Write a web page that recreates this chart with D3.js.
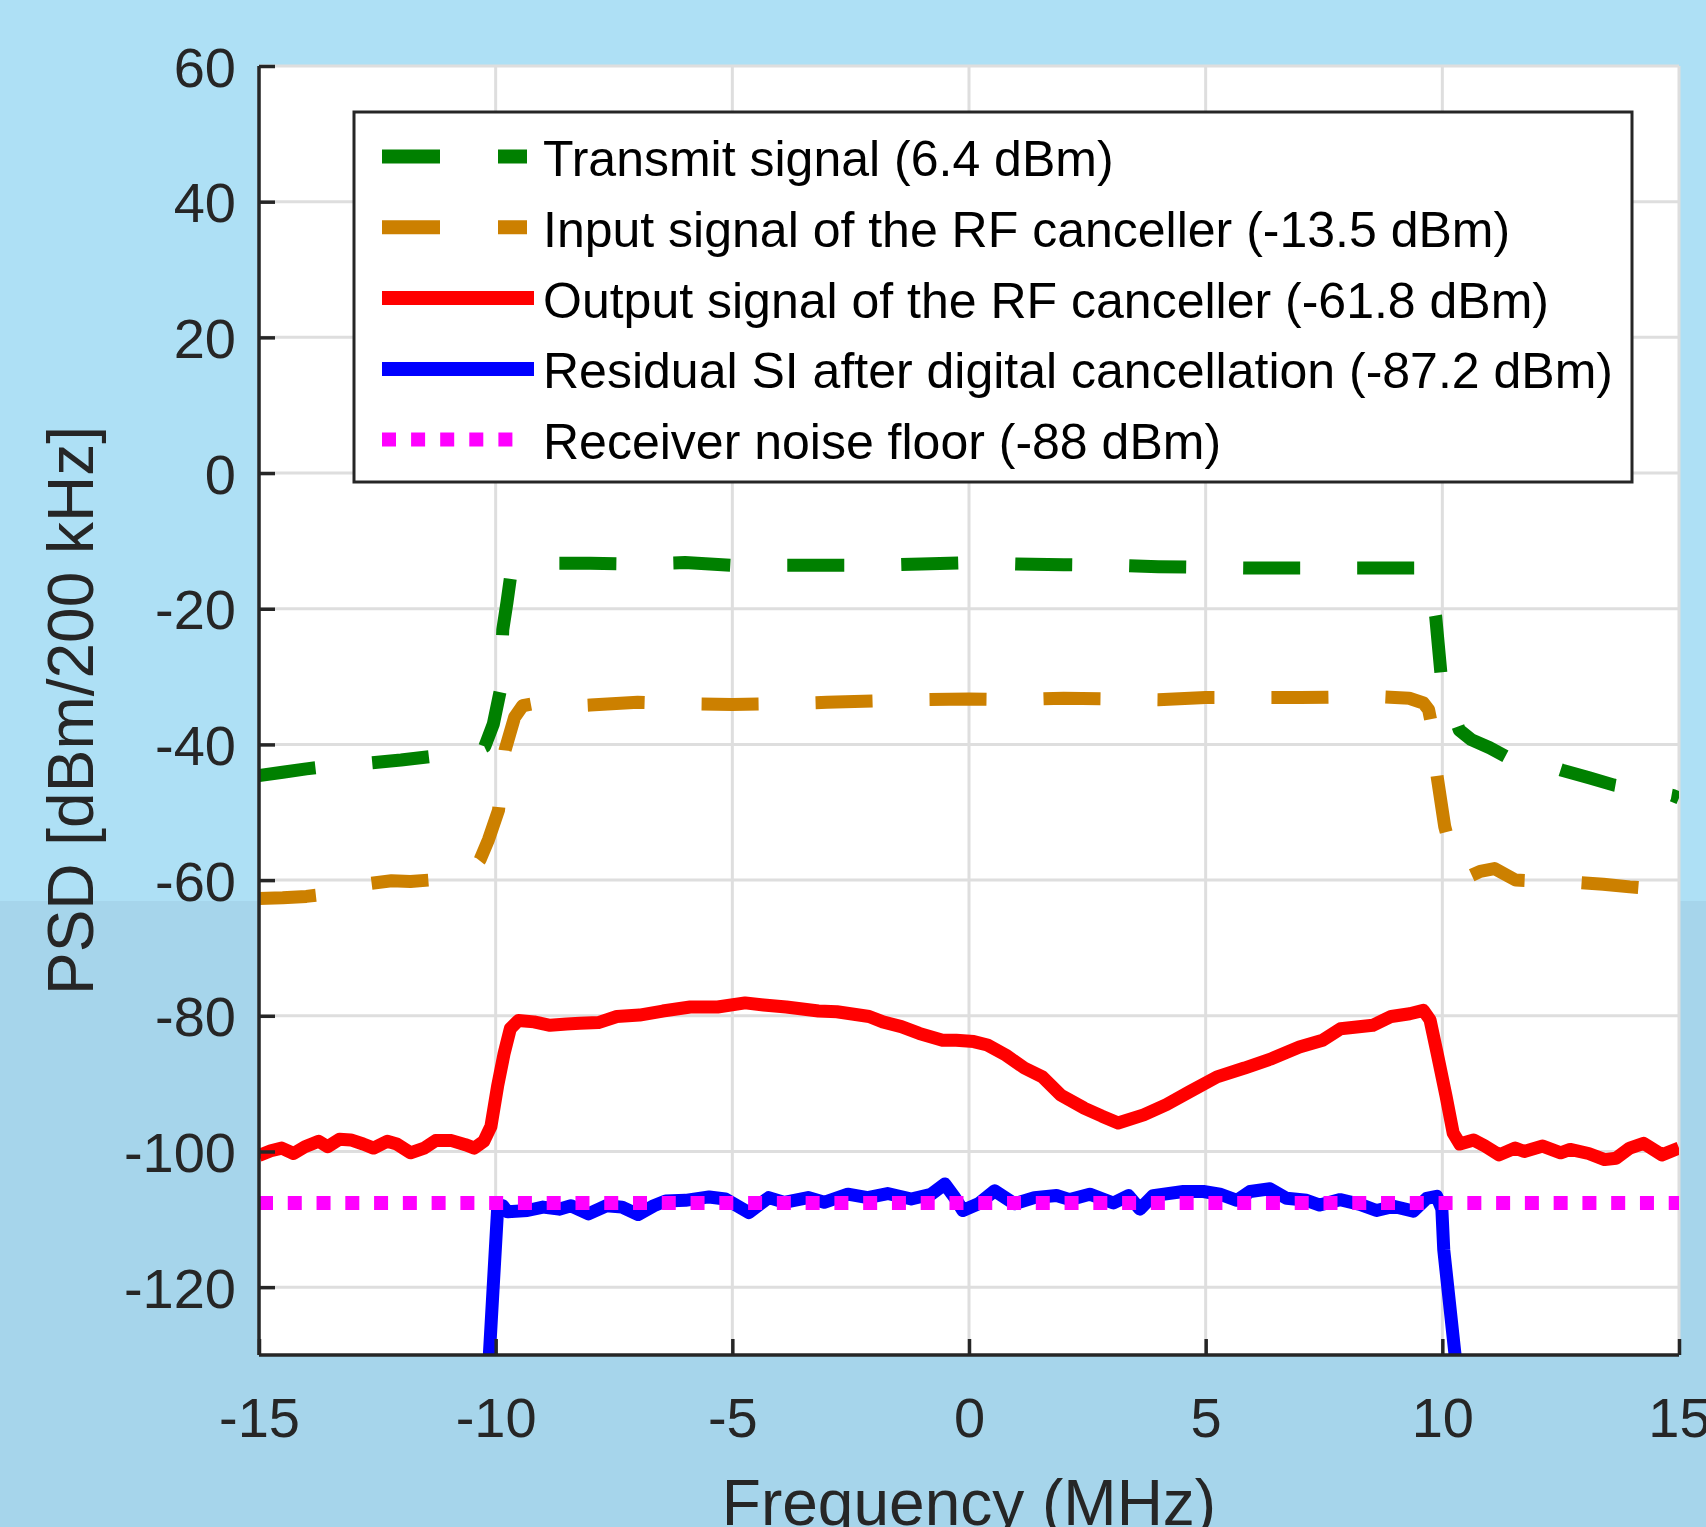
<!DOCTYPE html>
<html>
<head>
<meta charset="utf-8">
<script src="https://cdn.jsdelivr.net/npm/d3@7"></script>
<style>
  html, body { margin: 0; padding: 0; background: #AEE0F5; }
  svg { display: block; }
  text { font-family: "Liberation Sans", Arial, Helvetica, sans-serif; }
</style>
</head>
<body>
<svg id="chart" width="1706" height="1527"></svg>
<script>
// ---------------- data ----------------
const xTicks = [-15, -10, -5, 0, 5, 10, 15];
const yTicks = [-120, -100, -80, -60, -40, -20, 0, 20, 40, 60];

const transmitFreq = [-15, -14.5, -14, -13.75, -13.3, -12.62, -12.0, -11.39, -10.9, -10.5, -10.23, -10.05, -9.9, -9.85, -9.76, -9.68, -9.5, -9.2, -8.6, -8.0, -7.0, -6.0, -5.0, -4.0, -3.0, -2.0, -1.0, 0, 1, 2, 3, 4, 5, 6, 7, 8, 9, 9.5, 9.72, 9.86, 9.97, 10.1, 10.36, 10.61, 11.0, 11.35, 12.0, 12.53, 13.1, 13.63, 14.2, 14.86, 15];
const transmitPSD  = [-44.6, -44.1, -43.6, -43.4, -43.0, -42.7, -42.3, -41.8, -41.5, -41.2, -40.3, -37.0, -32.0, -23.1, -19.0, -15.0, -13.6, -13.3, -13.3, -13.3, -13.4, -13.2, -13.6, -13.6, -13.6, -13.6, -13.4, -13.2, -13.4, -13.5, -13.6, -13.8, -13.9, -14.0, -14.0, -14.0, -14.0, -14.0, -15.5, -21.2, -29.5, -33.0, -37.9, -39.3, -40.5, -41.8, -42.6, -43.8, -44.9, -46.0, -46.7, -47.5, -47.9];

const inputFreq = [-15, -14.5, -14, -13.75, -13.3, -12.65, -12.2, -11.8, -11.42, -10.9, -10.5, -10.33, -10.15, -9.94, -9.8, -9.6, -9.43, -9.2, -8.6, -8.0, -7.0, -6.0, -5.0, -4.0, -3.0, -2.0, -1.0, 0, 1, 2, 3, 4, 5, 6, 7, 8, 8.73, 9.3, 9.6, 9.71, 9.8, 9.87, 10.05, 10.2, 10.49, 10.8, 11.1, 11.55, 12.2, 12.77, 13.4, 13.96, 14.5, 15];
const inputPSD  = [-62.7, -62.6, -62.4, -62.2, -61.5, -60.5, -60.1, -60.2, -60.0, -59.5, -58.5, -57.0, -54.0, -49.7, -40.8, -36.0, -34.3, -34.0, -34.4, -34.2, -33.8, -34.0, -34.1, -34.0, -33.8, -33.6, -33.4, -33.3, -33.4, -33.2, -33.3, -33.4, -33.1, -33.1, -33.1, -33.0, -33.0, -33.2, -33.9, -34.9, -38.0, -43.8, -52.1, -56.0, -59.7, -58.7, -58.3, -60.0, -60.2, -60.3, -60.6, -61.0, -61.3, -61.5];

const outputFreq = [-15, -14.75, -14.52, -14.27, -14.03, -13.74, -13.55, -13.3, -13.06, -12.8, -12.58, -12.29, -12.09, -11.8, -11.51, -11.27, -10.93, -10.64, -10.45, -10.25, -10.1, -9.96, -9.82, -9.69, -9.52, -9.19, -8.85, -8.5, -8.22, -7.83, -7.44, -6.96, -6.47, -5.89, -5.31, -4.73, -4.34, -3.86, -3.18, -2.79, -2.11, -1.82, -1.43, -1.05, -0.56, -0.27, 0.1, 0.39, 0.78, 1.17, 1.55, 1.94, 2.43, 2.81, 3.15, 3.69, 4.17, 4.66, 5.24, 5.82, 6.4, 6.98, 7.47, 7.85, 8.53, 8.92, 9.31, 9.6, 9.74, 9.89, 10.08, 10.23, 10.37, 10.66, 10.9, 11.2, 11.54, 11.73, 12.12, 12.5, 12.7, 13.09, 13.43, 13.67, 13.96, 14.25, 14.64, 15];
const outputPSD  = [-100.6, -99.9, -99.5, -100.3, -99.3, -98.5, -99.3, -98.2, -98.3, -98.9, -99.5, -98.5, -98.9, -100.2, -99.5, -98.4, -98.4, -99.0, -99.5, -98.5, -96.3, -90.4, -85.5, -81.9, -80.7, -80.9, -81.4, -81.2, -81.1, -81.0, -80.1, -79.9, -79.3, -78.7, -78.7, -78.1, -78.4, -78.7, -79.3, -79.4, -80.1, -80.9, -81.6, -82.6, -83.6, -83.6, -83.8, -84.3, -85.8, -87.7, -89.0, -91.7, -93.6, -94.8, -95.8, -94.6, -93.1, -91.2, -89.0, -87.7, -86.3, -84.6, -83.6, -81.9, -81.4, -80.1, -79.7, -79.2, -80.6, -85.5, -91.9, -97.3, -98.9, -98.3, -99.2, -100.5, -99.5, -100.0, -99.2, -100.2, -99.7, -100.3, -101.2, -101.0, -99.5, -98.8, -100.5, -99.5];

const residualFreq = [-10.15, -9.96, -9.85, -9.75, -9.33, -9.0, -8.66, -8.41, -8.04, -7.66, -7.33, -6.99, -6.66, -6.41, -5.99, -5.49, -5.15, -4.65, -4.23, -3.9, -3.4, -3.06, -2.56, -2.14, -1.72, -1.22, -0.8, -0.51, -0.3, -0.13, 0.2, 0.54, 0.96, 1.38, 1.85, 2.13, 2.55, 3.05, 3.37, 3.61, 3.89, 4.53, 4.95, 5.3, 5.66, 5.94, 6.36, 6.71, 7.13, 7.41, 7.84, 8.26, 8.61, 8.97, 9.39, 9.67, 9.88, 9.99, 10.03, 10.3];
const residualPSD  = [-132, -108.6, -108.0, -108.9, -108.7, -108.2, -108.5, -108.0, -109.2, -108.0, -108.2, -109.3, -108.0, -107.3, -107.2, -106.7, -107.0, -109.0, -106.8, -107.5, -106.8, -107.5, -106.3, -106.8, -106.2, -107.0, -106.3, -104.8, -106.8, -108.7, -107.7, -105.8, -107.7, -106.8, -106.5, -107.1, -106.3, -107.6, -106.5, -108.5, -106.5, -105.9, -105.9, -106.3, -107.2, -105.9, -105.5, -106.9, -107.2, -107.9, -107.1, -107.8, -108.7, -108.1, -108.8, -106.9, -106.6, -108.5, -114.5, -132];

const noiseFreq = [-15, 15];
const noisePSD  = [-107.6, -107.6];

const seriesNames = [
  "Transmit signal (6.4 dBm)",
  "Input signal of the RF canceller (-13.5 dBm)",
  "Output signal of the RF canceller (-61.8 dBm)",
  "Residual SI after digital cancellation (-87.2 dBm)",
  "Receiver noise floor (-88 dBm)"
];
const seriesColors = ["#008000", "#CC8000", "#FF0000", "#0000FF", "#FF00FF"];
const seriesDash = ["57,57", "57,57", null, null, "14,14.77"];
const legendDash = ["58,58", "58,58", null, null, "14,15.1"];

// ---------------- layout ----------------
const W = 1706, H = 1527;
const L = 259, R = 1679, T = 66, B = 1355;
const svg = d3.select("#chart");

svg.append("rect").attr("x", 0).attr("y", 0).attr("width", W).attr("height", 901).attr("fill", "#AEE0F5");
svg.append("rect").attr("x", 0).attr("y", 901).attr("width", W).attr("height", H - 901).attr("fill", "#A6D5EB");

const x = d3.scaleLinear().domain([-15, 15]).range([L, R]);
const y = d3.scaleLinear().domain([-130, 60]).range([B, T]);

svg.append("rect").attr("x", L).attr("y", T).attr("width", R - L).attr("height", B - T).attr("fill", "#ffffff");

// grid
const grid = svg.append("g").attr("stroke", "#dedede").attr("stroke-width", 3);
grid.selectAll("line.v").data(xTicks).join("line").attr("class", "v")
  .attr("x1", d => x(d)).attr("x2", d => x(d)).attr("y1", T).attr("y2", B);
grid.selectAll("line.h").data(yTicks).join("line").attr("class", "h")
  .attr("x1", L).attr("x2", R).attr("y1", d => y(d)).attr("y2", d => y(d));

// clip
svg.append("defs").append("clipPath").attr("id", "plotclip")
  .append("rect").attr("x", L).attr("y", T).attr("width", R - L).attr("height", B - T);

const series = [
  [transmitFreq, transmitPSD],
  [inputFreq, inputPSD],
  [outputFreq, outputPSD],
  [residualFreq, residualPSD],
  [noiseFreq, noisePSD]
];

const line = d3.line().x(d => x(d[0])).y(d => y(d[1])).curve(d3.curveLinear);
const plotG = svg.append("g").attr("clip-path", "url(#plotclip)");
series.forEach((s, i) => {
  const pts = s[0].map((f, k) => [f, s[1][k]]);
  plotG.append("path")
    .attr("d", line(pts))
    .attr("fill", "none")
    .attr("stroke", seriesColors[i])
    .attr("stroke-width", i === 4 ? 14 : 13)
    .attr("stroke-linejoin", "round")
    .attr("stroke-linecap", "butt")
    .attr("stroke-dasharray", seriesDash[i]);
});

// axes
const axisColor = "#262626";
const fmt = d => String(d);
const xAxis = d3.axisBottom(x).tickValues(xTicks).tickSize(-16).tickSizeOuter(0).tickPadding(42).tickFormat(fmt);
const yAxis = d3.axisLeft(y).tickValues(yTicks).tickSize(-16).tickSizeOuter(0).tickPadding(23).tickFormat(fmt);

const gx = svg.append("g").attr("transform", `translate(0,${B})`).call(xAxis);
const gy = svg.append("g").attr("transform", `translate(${L},0)`).call(yAxis);
[gx, gy].forEach(g => {
  g.select(".domain").attr("stroke", axisColor).attr("stroke-width", 3.5);
  g.selectAll(".tick line").attr("stroke", axisColor).attr("stroke-width", 3.5);
  g.selectAll(".tick text").attr("fill", axisColor).attr("font-size", 56)
    .attr("font-family", "'Liberation Sans', Arial, Helvetica, sans-serif");
});
gy.selectAll(".tick text").attr("dy", "0.36em");
gx.select(".domain").attr("d", `M${L},0H${R}`);
gy.select(".domain").attr("d", `M0,${B}V${T}`);

// axis labels
svg.append("text")
  .attr("x", (L + R) / 2).attr("y", 1525)
  .attr("text-anchor", "middle").attr("fill", axisColor).attr("font-size", 64)
  .text("Frequency (MHz)");
svg.append("text")
  .attr("transform", `translate(93,${(T + B) / 2}) rotate(-90)`)
  .attr("text-anchor", "middle").attr("fill", axisColor).attr("font-size", 64)
  .text("PSD [dBm/200 kHz]");

// legend
const lg = svg.append("g");
lg.append("rect").attr("x", 354).attr("y", 112).attr("width", 1632 - 354).attr("height", 482 - 112)
  .attr("fill", "#ffffff").attr("stroke", axisColor).attr("stroke-width", 3);
const baselines = [176, 246.8, 317.6, 388.4, 459];
seriesNames.forEach((name, i) => {
  const cy = baselines[i] - 19.5;
  const xEnd = i < 2 ? 527 : (i === 4 ? 520 : 534);
  lg.append("line")
    .attr("x1", 382).attr("x2", xEnd).attr("y1", cy).attr("y2", cy)
    .attr("stroke", seriesColors[i]).attr("stroke-width", 14)
    .attr("stroke-linecap", "butt")
    .attr("stroke-dasharray", legendDash[i]);
  lg.append("text").attr("x", 543).attr("y", baselines[i])
    .attr("font-size", 50).attr("fill", "#000000").text(name);
});
</script>
</body>
</html>
